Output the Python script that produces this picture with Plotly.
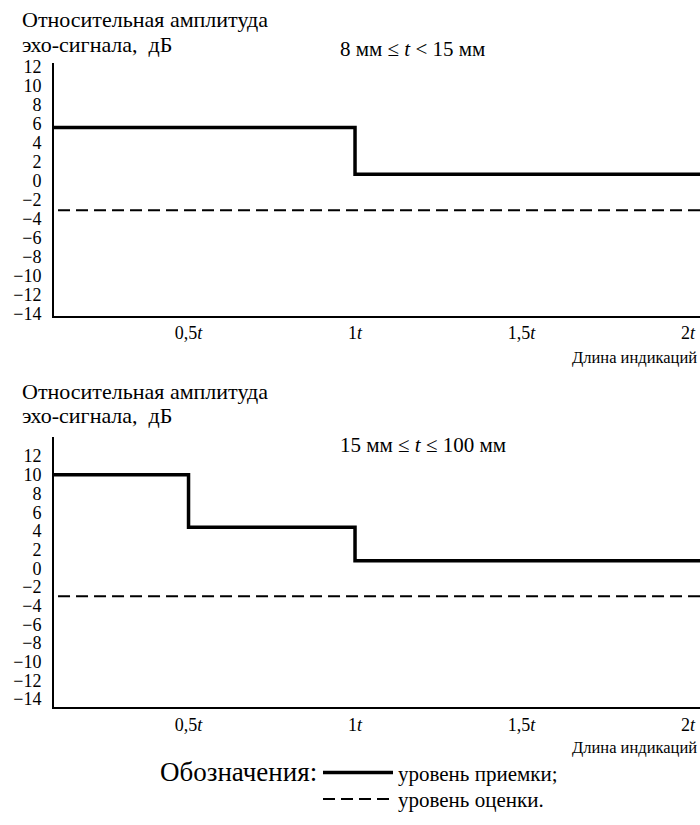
import plotly.graph_objects as go
from plotly.subplots import make_subplots

# ---- data ----
x_ticks = [0.5, 1.0, 1.5, 2.0]
x_tick_labels = ["0,5<i>t</i>", "1<i>t</i>", "1,5<i>t</i>", "2<i>t</i>"]
y_ticks = [-14, -12, -10, -8, -6, -4, -2, 0, 2, 4, 6, 8, 10, 12]
y_tick_labels = ["\u221214", "\u221212", "\u221210", "\u22128", "\u22126", "\u22124", "\u22122",
                 "0", "2", "4", "6", "8", "10", "12"]

top_accept_x = [0.0, 1.0, 2.1]
top_accept_y = [5.6, 0.7, 0.7]
top_eval_x = [0.0, 2.1]
top_eval_y = [-3.1, -3.1]

bot_accept_x = [0.0, 0.5, 1.0, 2.1]
bot_accept_y = [10.0, 4.4, 0.8, 0.8]
bot_eval_x = [0.0, 2.1]
bot_eval_y = [-3.0, -3.0]

W, H = 700, 825
FONT = "Liberation Serif"

def px(xp):
    return xp / W

def py(yp):
    return 1 - yp / H

fig = make_subplots(rows=2, cols=1)

solid = dict(color="black", width=3.5, shape="hv")
dashed = dict(color="black", width=2, dash="12px,6px")

fig.add_trace(go.Scatter(x=top_accept_x, y=top_accept_y, mode="lines", line=solid,
                         name="уровень приемки;", showlegend=True, legend="legend"), row=1, col=1)
fig.add_trace(go.Scatter(x=top_eval_x, y=top_eval_y, mode="lines", line=dashed,
                         name="уровень оценки.", showlegend=True, legend="legend2"), row=1, col=1)
fig.add_trace(go.Scatter(x=bot_accept_x, y=bot_accept_y, mode="lines", line=solid,
                         showlegend=False), row=2, col=1)
fig.add_trace(go.Scatter(x=bot_eval_x, y=bot_eval_y, mode="lines", line=dashed,
                         showlegend=False), row=2, col=1)

xcommon = dict(range=[0.096, 2.036], tickvals=x_ticks, ticktext=x_tick_labels,
               showgrid=False, zeroline=False, showline=True, linecolor="black",
               linewidth=2, ticks="", tickfont=dict(family=FONT, size=18, color="black"),
               domain=[54 / W, 1.0])
ycommon = dict(tickvals=y_ticks, ticktext=y_tick_labels, showgrid=False, zeroline=False,
               showline=True, linecolor="black", linewidth=2, ticks="",
               tickfont=dict(family=FONT, size=18, color="black"), ticklabelstandoff=7)

fig.update_xaxes(**xcommon)
fig.update_yaxes(**ycommon)
fig.update_yaxes(range=[-14.2, 12.4], domain=[py(315), py(58)], row=1, col=1)
fig.update_yaxes(range=[-14.85, 14.1], domain=[py(713), py(438)], row=2, col=1)

ann = []
def text(t, x, y, size, xanchor="left"):
    ann.append(dict(text=t, x=px(x), y=py(y), xref="paper", yref="paper",
                    xanchor=xanchor, yanchor="middle", showarrow=False,
                    font=dict(family=FONT, size=size, color="black")))

text("Относительная амплитуда", 20, 14, 22)
text("эхо-сигнала,  дБ", 20, 39, 22)
text("8 мм ≤ <i>t</i> &lt; 15 мм", 338, 44, 21)
text("Длина индикаций", 699, 358, 16.5, xanchor="right")

text("Относительная амплитуда", 20, 392, 22)
text("эхо-сигнала,  дБ", 20, 417, 22)
text("15 мм ≤ <i>t</i> ≤ 100 мм", 338, 447, 21)
text("Длина индикаций", 699, 754, 16.5, xanchor="right")

text("Обозначения:", 158, 779, 27)

leg_common = dict(xanchor="left", yanchor="middle",
                  font=dict(family=FONT, size=21, color="black"),
                  itemwidth=70, bgcolor="rgba(0,0,0,0)", borderwidth=0)

fig.update_layout(
    width=W, height=H, margin=dict(l=0, r=0, t=0, b=0),
    paper_bgcolor="white", plot_bgcolor="white",
    annotations=ann,
    showlegend=True,
    legend=dict(x=px(318), y=py(780), **leg_common),
    legend2=dict(x=px(318), y=py(807), **leg_common),
)

fig.write_html("out.html", config={"displayModeBar": False},
               post_script="document.body.style.margin='0';document.body.style.overflow='hidden';")
